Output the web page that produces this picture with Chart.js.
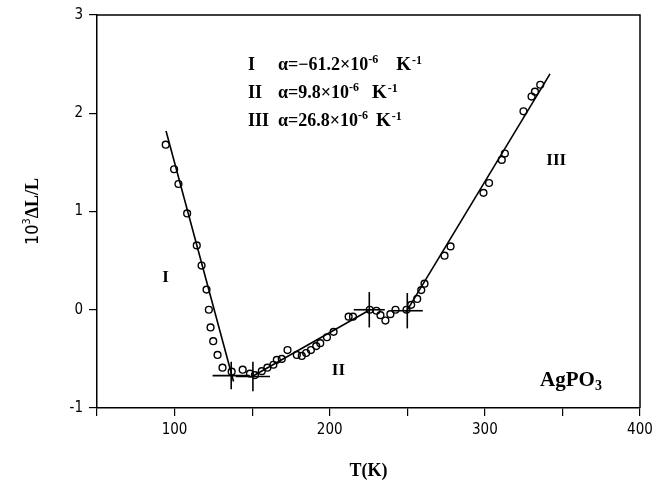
<!DOCTYPE html>
<html>
<head>
<meta charset="utf-8">
<script src="https://cdn.jsdelivr.net/npm/chart.js@4.4.1/dist/chart.umd.min.js"></script>
<style>
  html, body { margin: 0; padding: 0; background: #fff; }
</style>
</head>
<body>
<canvas id="dilatation" width="665" height="494"></canvas>
<script>
// meetpunten T (K) en 10^3 dL/L per gebied
const tempI = [94.3, 99.7, 102.5, 108.1, 114.3, 117.4, 120.6, 122.1, 123.2, 124.9, 127.7, 130.9];
const dlI = [1.68, 1.43, 1.28, 0.98, 0.655, 0.45, 0.205, 0.0, -0.18, -0.32, -0.46, -0.59];

const tempII = [136.8, 143.9, 148.6, 151.8, 156.2, 159.8, 163.7, 165.9, 169.1, 172.8, 178.8, 182.0, 184.8,
    187.9, 191.3, 193.9, 198.2, 202.5, 212.2, 215.0, 225.8, 230.1, 232.7, 235.9, 239.1, 242.4, 249.5];
const dlII = [-0.63, -0.61, -0.65, -0.665, -0.625, -0.59, -0.56, -0.51, -0.50, -0.41, -0.46, -0.47, -0.44,
    -0.41, -0.37, -0.34, -0.28, -0.225, -0.07, -0.07, 0.0, -0.01, -0.055, -0.11, -0.045, 0.0, 0.0];

const tempIII = [252.5, 256.4, 259.0, 261.1, 274.0, 277.9, 299.1, 302.7, 310.9, 312.9, 324.9, 330.1, 332.3, 335.7];
const dlIII = [0.05, 0.11, 0.2, 0.265, 0.55, 0.645, 1.19, 1.29, 1.525, 1.59, 2.02, 2.17, 2.22, 2.29];

// rechte lijnen (begin- en eindpunt)
const fitI_T = [94.5, 138];
const fitI_L = [1.82, -0.73];
const fitII_T = [150, 226];
const fitII_L = [-0.68, 0.0];
const fitIII_T = [249, 342];
const fitIII_L = [-0.03, 2.40];

// overgangspunten met foutkruisen
const crossT = [136.5, 150.5, 225.5, 250];
const crossL = [-0.67, -0.68, 0.0, -0.01];
const crossDT = [12, 11, 10, 10];
const crossDL = [0.14, 0.15, 0.18, 0.18];

// assen
const xTickLabels = [100, 200, 300, 400];
const yTickLabels = [-1, 0, 1, 2, 3];

// uitzettingscoefficienten
const alphaRoman = ['I', 'II', 'III'];
const alphaValue = ['\u221261.2', '9.8', '26.8'];

const SERIF = '"Liberation Serif", "Times New Roman", serif';
const NARROW = '"Liberation Sans Narrow", "DejaVu Sans Condensed", sans-serif';

const toPoints = (xs, ys) => xs.map((x, i) => ({ x: x, y: ys[i] }));

function lineSet(xs, ys) {
    return {
        data: toPoints(xs, ys),
        showLine: true,
        borderColor: '#000',
        borderWidth: 1.6,
        pointRadius: 0,
        fill: false
    };
}

function pointSet(xs, ys) {
    return {
        data: toPoints(xs, ys),
        showLine: false,
        pointRadius: 3.4,
        pointBorderWidth: 1.4,
        pointBorderColor: '#000',
        pointBackgroundColor: 'rgba(0,0,0,0)'
    };
}

const datasets = [
    lineSet(fitI_T, fitI_L),
    lineSet(fitII_T, fitII_L),
    lineSet(fitIII_T, fitIII_L)
];
crossT.forEach((t, i) => {
    datasets.push(lineSet([t - crossDT[i], t + crossDT[i]], [crossL[i], crossL[i]]));
    datasets.push(lineSet([t, t], [crossL[i] - crossDL[i], crossL[i] + crossDL[i]]));
});
datasets.push(pointSet(tempI, dlI));
datasets.push(pointSet(tempII, dlII));
datasets.push(pointSet(tempIII, dlIII));

// tekst met superscript stukjes
function drawRuns(ctx, x, y, runs) {
    let cx = x;
    runs.forEach(r => {
        ctx.font = r.font;
        ctx.fillText(r.text, cx, y + (r.dy || 0));
        cx += ctx.measureText(r.text).width + (r.gap || 0);
    });
    return cx - x;
}

const annotations = {
    id: 'annotations',
    afterDraw(chart) {
        const ctx = chart.ctx;
        const xs = chart.scales.x;
        const ys = chart.scales.y;
        const area = chart.chartArea;
        ctx.save();
        ctx.fillStyle = '#000';
        ctx.strokeStyle = '#000';

        // kader boven en rechts
        ctx.lineWidth = 1.5;
        ctx.beginPath();
        ctx.moveTo(area.left, area.top);
        ctx.lineTo(area.right, area.top);
        ctx.lineTo(area.right, area.bottom);
        ctx.stroke();

        // alfa regels
        ctx.textAlign = 'left';
        ctx.textBaseline = 'alphabetic';
        const gaps = [18, 13, 8];
        const rowY = [2.44, 2.155, 1.87];
        alphaRoman.forEach((roman, i) => {
            const x = xs.getPixelForValue(147.3);
            const y = ys.getPixelForValue(rowY[i]);
            ctx.font = 'bold 18px ' + SERIF;
            ctx.fillText(roman, x, y);
            drawRuns(ctx, x + 30, y, [
                { text: '\u03b1=' + alphaValue[i] + '\u00d710', font: 'bold 18px ' + SERIF },
                { text: '-6', font: 'bold 12px ' + SERIF, dy: -7, gap: gaps[i] },
                { text: 'K', font: 'bold 19px ' + SERIF, gap: 1 },
                { text: '-1', font: 'bold 12px ' + SERIF, dy: -6 }
            ]);
        });

        // gebieden
        ctx.textAlign = 'center';
        ctx.textBaseline = 'middle';
        ctx.font = 'bold 17px ' + SERIF;
        ctx.fillText('I', xs.getPixelForValue(94.2), ys.getPixelForValue(0.33));
        ctx.fillText('II', xs.getPixelForValue(205.6), ys.getPixelForValue(-0.615));
        ctx.fillText('III', xs.getPixelForValue(346), ys.getPixelForValue(1.52));

        // AgPO3
        ctx.textAlign = 'left';
        ctx.textBaseline = 'alphabetic';
        ctx.font = 'bold 21px ' + SERIF;
        const w = ctx.measureText('AgPO').width;
        ctx.font = 'bold 14px ' + SERIF;
        const w3 = ctx.measureText('3').width;
        const ax = xs.getPixelForValue(355.5) - (w + w3) / 2;
        const ay = ys.getPixelForValue(-0.70) + 7;
        drawRuns(ctx, ax, ay, [
            { text: 'AgPO', font: 'bold 21px ' + SERIF },
            { text: '3', font: 'bold 14px ' + SERIF, dy: 4 }
        ]);

        // x titel
        ctx.textAlign = 'center';
        ctx.textBaseline = 'middle';
        ctx.font = 'bold 18px ' + SERIF;
        ctx.fillText('T(K)', (area.left + area.right) / 2, 471);

        // y titel, gedraaid
        ctx.translate(33, (area.top + area.bottom) / 2);
        ctx.rotate(-Math.PI / 2);
        ctx.textAlign = 'left';
        ctx.textBaseline = 'middle';
        const runs = [
            { text: '10', font: '18px ' + NARROW },
            { text: '3', font: '11px ' + NARROW, dy: -6 },
            { text: '\u0394L/L', font: 'bold 18px ' + SERIF }
        ];
        let total = 0;
        runs.forEach(r => { ctx.font = r.font; total += ctx.measureText(r.text).width; });
        drawRuns(ctx, -total / 2, 0, runs);
        ctx.restore();
    }
};

new Chart(document.getElementById('dilatation'), {
    type: 'scatter',
    data: { datasets: datasets },
    options: {
        responsive: false,
        animation: false,
        devicePixelRatio: 1,
        layout: { padding: { top: 14, right: 25, left: 0, bottom: 0 } },
        plugins: {
            legend: { display: false },
            tooltip: { enabled: false }
        },
        scales: {
            x: {
                type: 'linear',
                min: 50,
                max: 400,
                afterFit: scale => { scale.height = 86; },
                ticks: {
                    stepSize: 50,
                    color: '#000',
                    padding: 5,
                    maxRotation: 0,
                    font: { family: NARROW, size: 15 },
                    callback: v => (xTickLabels.includes(v) ? String(v) : '')
                },
                grid: { drawOnChartArea: false, drawTicks: true, tickLength: 8, color: '#000', lineWidth: 1.2 },
                border: { display: true, color: '#000', width: 1.5 }
            },
            y: {
                type: 'linear',
                min: -1,
                max: 3,
                afterFit: scale => { scale.width = 97; },
                ticks: {
                    stepSize: 1,
                    color: '#000',
                    padding: 6,
                    font: { family: NARROW, size: 15 },
                    callback: v => (yTickLabels.includes(v) ? String(v) : '')
                },
                grid: { drawOnChartArea: false, drawTicks: true, tickLength: 8, color: '#000', lineWidth: 1.2 },
                border: { display: true, color: '#000', width: 1.5 }
            }
        }
    },
    plugins: [annotations]
});
</script>
</body>
</html>
